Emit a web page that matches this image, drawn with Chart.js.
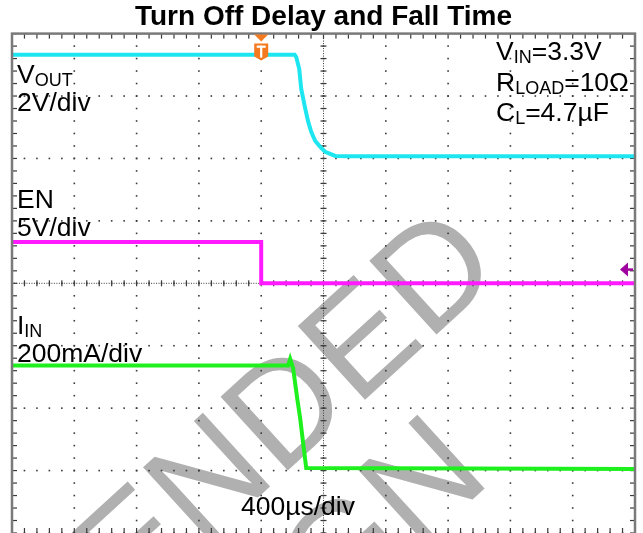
<!DOCTYPE html>
<html>
<head>
<meta charset="utf-8">
<script src="https://cdn.jsdelivr.net/npm/chart.js@4.4.1/dist/chart.umd.min.js"></script>
<style>
  html, body { margin: 0; padding: 0; background: #fff; }
  #wrap { width: 643px; height: 533px; }
</style>
</head>
<body>
<div id="wrap"><canvas id="scope" width="643" height="533"></canvas></div>
<script>
// time axis in microseconds relative to trigger, 400us/div
const tempoMin = -1600;
const tempoMax = 2400;
const tempoDiv = 400;

// VOUT (V), 2V/div, zero at +2 div
const voutTempo = [-1600, 215, 225, 244, 257, 283, 302, 321, 347, 379, 411, 475, 560, 2400];
const voutValor = [3.32, 3.32, 3.25, 2.87, 2.23, 1.59, 1.17, 0.85, 0.56, 0.37, 0.21, 0.08, 0.07, 0.07];

// EN (V), 5V/div, zero at 0 div
const enTempo = [-1600, 0, 0, 2400];
const enValor = [3.3, 3.3, 0, 0];

// IIN (mA), 200mA/div, zero at -3 div
const iinTempo = [-1600, 173, 186, 205, 231, 250, 270, 289, 2400];
const iinValor = [337, 337, 358, 328, 232, 168, 85, 8, 5];

const canais = [
  { nome: "VOUT", tempo: voutTempo, valor: voutValor, escala: 2, zero: 2, cor: "#1ee6f0" },
  { nome: "EN", tempo: enTempo, valor: enValor, escala: 5, zero: 0, cor: "#ff1aff" },
  { nome: "IIN", tempo: iinTempo, valor: iinValor, escala: 200, zero: -3, cor: "#1ef01e" },
];

const fonte = '"Liberation Sans", Arial, sans-serif';

// rotulos: partes [texto, subscrito], x, baseline
const rotulos = [
  { partes: [["V", 0], ["OUT", 1]], x: 17, y: 83 },
  { partes: [["2V/div", 0]], x: 17, y: 111 },
  { partes: [["EN", 0]], x: 17, y: 208 },
  { partes: [["5V/div", 0]], x: 17, y: 236 },
  { partes: [["I", 0], ["IN", 1]], x: 17, y: 334 },
  { partes: [["200mA/div", 0]], x: 17, y: 362 },
  { partes: [["400µs/div", 0]], x: 241, y: 515 },
  { partes: [["V", 0], ["IN", 1], ["=3.3V", 0]], x: 496, y: 60 },
  { partes: [["R", 0], ["LOAD", 1], ["=10Ω", 0]], x: 496, y: 91 },
  { partes: [["C", 0], ["L", 1], ["=4.7µF", 0]], x: 496, y: 121 },
];

function desenharTexto(ctx, r) {
  let x = r.x;
  r.partes.forEach(([txt, sub]) => {
    ctx.font = (sub ? "18px " : "26.5px ") + fonte;
    ctx.fillText(txt, x, r.y + (sub ? 3 : 0));
    x += ctx.measureText(txt).width;
  });
}

const graticula = {
  id: "graticula",
  beforeDatasetsDraw(chart) {
    const { ctx, chartArea: a } = chart;
    const sx = chart.scales.x;
    const sy = chart.scales.y;
    ctx.save();
    ctx.beginPath();
    ctx.rect(a.left, a.top, a.right - a.left, a.bottom - a.top);
    ctx.clip();

    // marca d'agua
    ctx.fillStyle = "#b0b0b0";
    ctx.font = "145px " + fonte;
    ctx.textAlign = "right";
    ctx.translate(505, 272);
    ctx.rotate(-0.74);
    ctx.fillText("NOT RECOMMENDED", 0, 0);
    ctx.fillText("FOR NEW DESIGN", -149, 146);
    ctx.setTransform(1, 0, 0, 1, 0, 0);
    ctx.textAlign = "left";

    ctx.fillStyle = "#3a3a3a";
    // vertical lines
    for (let t = tempoMin; t <= tempoMax; t += tempoDiv) {
      const px = sx.getPixelForValue(t);
      for (let d = -4; d <= 4.01; d += 0.2) {
        const py = sy.getPixelForValue(d);
        ctx.fillRect(px - 0.8, py - 0.8, 1.6, 1.6);
      }
    }
    // horizontal lines
    for (let d = -4; d <= 4; d += 1) {
      const py = sy.getPixelForValue(d);
      for (let t = tempoMin; t <= tempoMax + 1; t += tempoDiv / 5) {
        const px = sx.getPixelForValue(t);
        ctx.fillRect(px - 0.8, py - 0.8, 1.6, 1.6);
      }
    }
    // center lines with ticks
    const cx = sx.getPixelForValue(400);
    const cy = sy.getPixelForValue(0);
    for (let d = -4; d <= 4; d += 0.04) {
      const py = sy.getPixelForValue(d);
      ctx.fillRect(cx - 0.5, py - 0.5, 1, 1);
    }
    for (let d = -4; d <= 4.01; d += 0.2) {
      const py = sy.getPixelForValue(d);
      ctx.fillRect(cx - 3, py - 0.6, 6, 1.2);
    }
    for (let t = tempoMin; t <= tempoMax; t += tempoDiv / 25) {
      const px = sx.getPixelForValue(t);
      ctx.fillRect(px - 0.5, cy - 0.5, 1, 1);
    }
    for (let t = tempoMin; t <= tempoMax + 1; t += tempoDiv / 5) {
      const px = sx.getPixelForValue(t);
      ctx.fillRect(px - 0.6, cy - 3, 1.2, 6);
    }
    // frame ticks
    for (let t = tempoMin; t <= tempoMax + 1; t += tempoDiv / 5) {
      const px = sx.getPixelForValue(t);
      ctx.fillRect(px - 0.6, a.top, 1.2, 5);
      ctx.fillRect(px - 0.6, a.bottom - 5, 1.2, 5);
    }
    for (let d = -4; d <= 4.01; d += 0.2) {
      const py = sy.getPixelForValue(d);
      ctx.fillRect(a.left, py - 0.6, 5, 1.2);
      ctx.fillRect(a.right - 5, py - 0.6, 5, 1.2);
    }
    ctx.restore();
  },
  afterDatasetsDraw(chart) {
    const { ctx, chartArea: a } = chart;
    const sx = chart.scales.x;
    const sy = chart.scales.y;
    ctx.save();
    // frame
    ctx.strokeStyle = "#7a7a7a";
    ctx.lineWidth = 2.5;
    ctx.strokeRect(a.left, a.top, a.right - a.left, a.bottom - a.top + 4);

    // trigger marker
    const tx = sx.getPixelForValue(0);
    ctx.fillStyle = "#f47a20";
    ctx.beginPath();
    ctx.moveTo(tx - 7, a.top + 1);
    ctx.lineTo(tx + 7, a.top + 1);
    ctx.lineTo(tx, a.top + 8);
    ctx.closePath();
    ctx.fill();
    ctx.beginPath();
    ctx.moveTo(tx - 7, a.top + 10);
    ctx.lineTo(tx + 7, a.top + 10);
    ctx.lineTo(tx + 7, a.top + 23);
    ctx.lineTo(tx, a.top + 27);
    ctx.lineTo(tx - 7, a.top + 23);
    ctx.closePath();
    ctx.fill();
    ctx.fillStyle = "#fff";
    ctx.fillRect(tx - 4.5, a.top + 12, 9, 2.2);
    ctx.fillRect(tx - 1.1, a.top + 12, 2.2, 12);

    // trigger level marker (EN)
    const ly = sy.getPixelForValue(0.22);
    ctx.fillStyle = "#a000a0";
    ctx.beginPath();
    ctx.moveTo(a.right - 15, ly);
    ctx.lineTo(a.right - 7, ly - 7);
    ctx.lineTo(a.right - 7, ly + 7);
    ctx.closePath();
    ctx.fill();
    ctx.fillRect(a.right - 8, ly - 1.2, 6, 2.4);

    // labels
    ctx.fillStyle = "#000";
    ctx.textBaseline = "alphabetic";
    rotulos.forEach((r) => desenharTexto(ctx, r));
    ctx.restore();
  },
};

const datasets = canais.map((c) => ({
  label: c.nome,
  data: c.tempo.map((t, i) => ({ x: t, y: c.valor[i] / c.escala + c.zero })),
  borderColor: c.cor,
  borderWidth: 4,
  pointRadius: 0,
  showLine: true,
  tension: 0,
}));

new Chart(document.getElementById("scope"), {
  type: "scatter",
  data: { datasets: datasets },
  options: {
    responsive: false,
    animation: false,
    layout: { padding: { left: 12, right: 8, top: 0, bottom: 0 } },
    plugins: {
      legend: { display: false },
      tooltip: { enabled: false },
      title: {
        display: true,
        text: "Turn Off Delay and Fall Time",
        color: "#000",
        font: { family: fonte, size: 28, weight: "bold" },
        padding: { top: 0, bottom: 0 },
      },
    },
    scales: {
      x: { type: "linear", min: tempoMin, max: tempoMax, display: false },
      y: { type: "linear", min: -4, max: 4, display: false },
    },
  },
  plugins: [graticula],
});
</script>
</body>
</html>
